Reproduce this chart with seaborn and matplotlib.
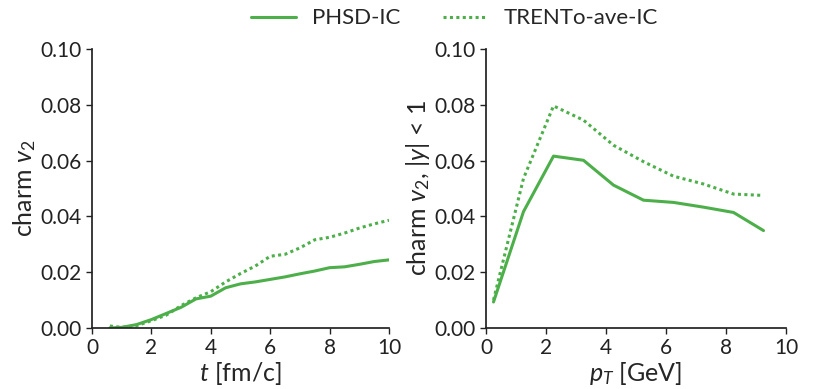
import numpy as np
import pandas as pd
import seaborn as sns
import matplotlib.pyplot as plt

# Time evolution of charm v2
t_fm = [0.6, 1.0, 1.5, 2.0, 2.5, 3.0, 3.5, 4.0, 4.5, 5.0, 5.5, 6.0, 6.5, 7.0, 7.5, 8.0, 8.5, 9.0, 9.5, 10.0]
v2_t_phsd = [0.0000, 0.0002, 0.0012, 0.0030, 0.0052, 0.0074, 0.0104, 0.0114, 0.0144, 0.0158, 0.0165, 0.0174, 0.0183, 0.0194, 0.0204, 0.0216, 0.0219, 0.0228, 0.0238, 0.0244]
v2_t_trento = [0.0007, 0.0002, 0.0008, 0.0026, 0.0046, 0.0080, 0.0108, 0.0130, 0.0165, 0.0195, 0.0222, 0.0257, 0.0264, 0.0287, 0.0316, 0.0325, 0.0340, 0.0358, 0.0373, 0.0386]

# Charm v2 versus transverse momentum at mid-rapidity
pt_gev = [0.25, 1.25, 2.25, 3.25, 4.25, 5.25, 6.25, 7.25, 8.25, 9.25]
v2_pt_phsd = [0.0093, 0.0417, 0.0616, 0.0601, 0.0512, 0.0458, 0.0450, 0.0433, 0.0414, 0.0349]
v2_pt_trento = [0.0100, 0.0536, 0.0796, 0.0745, 0.0655, 0.0596, 0.0544, 0.0516, 0.0480, 0.0475]

labels = ["PHSD-IC", "TRENTo-ave-IC"]
green = "#4daf4a"

sns.set_theme(style="ticks")
plt.rcParams["font.family"] = ["Lato", "DejaVu Sans"]
plt.rcParams["mathtext.fontset"] = "custom"
plt.rcParams["mathtext.rm"] = "Lato"
plt.rcParams["mathtext.it"] = "Lato:italic"
plt.rcParams["mathtext.bf"] = "Lato:bold"

df_t = pd.concat([
    pd.DataFrame({"t": t_fm, "v2": v2_t_phsd, "ic": labels[0]}),
    pd.DataFrame({"t": t_fm, "v2": v2_t_trento, "ic": labels[1]}),
])
df_pt = pd.concat([
    pd.DataFrame({"pt": pt_gev, "v2": v2_pt_phsd, "ic": labels[0]}),
    pd.DataFrame({"pt": pt_gev, "v2": v2_pt_trento, "ic": labels[1]}),
])

fig = plt.figure(figsize=(8.24, 3.89), dpi=100)
ax1 = fig.add_axes([0.1117, 0.157, 0.3604, 0.717])
ax2 = fig.add_axes([0.5898, 0.157, 0.3641, 0.717])

palette = {labels[0]: green, labels[1]: green}
dashes = {labels[0]: "", labels[1]: (1, 1.1)}

sns.lineplot(data=df_t, x="t", y="v2", hue="ic", style="ic", palette=palette,
             dashes=dashes, linewidth=2.2, ax=ax1, legend=False)
sns.lineplot(data=df_pt, x="pt", y="v2", hue="ic", style="ic", palette=palette,
             dashes=dashes, linewidth=2.2, ax=ax2, legend=False)

for ax in (ax1, ax2):
    ax.set_xlim(0, 10)
    ax.set_ylim(0, 0.1)
    ax.set_xticks([0, 2, 4, 6, 8, 10])
    ax.set_yticks([0, 0.02, 0.04, 0.06, 0.08, 0.10])
    ax.set_yticklabels(["0.00", "0.02", "0.04", "0.06", "0.08", "0.10"])
    ax.tick_params(labelsize=15, length=4, width=1, colors="#222222", labelcolor="#222222")
    for s in ("left", "bottom"):
        ax.spines[s].set_color("#222222")
    sns.despine(ax=ax)

ax1.set_xlabel(r"$t$ [fm/c]", fontsize=18, labelpad=1)
ax1.set_ylabel(r"charm $v_2$", fontsize=18, labelpad=2)
ax2.set_xlabel(r"$p_T$ [GeV]", fontsize=18, labelpad=1)
ax2.set_ylabel(r"charm $v_2$, $|y|$ < 1", fontsize=18, labelpad=2)

handles = [
    plt.Line2D([], [], color=green, lw=2.2, ls="-"),
    plt.Line2D([], [], color=green, lw=2.2, ls=(0, (1, 1.1))),
]
fig.legend(handles, labels, loc="upper center", bbox_to_anchor=(0.552, 1.03), ncol=2,
           frameon=False, fontsize=16, handlelength=2.0, handletextpad=0.75,
           columnspacing=1.9)

fig.savefig("out.png", dpi=100)
